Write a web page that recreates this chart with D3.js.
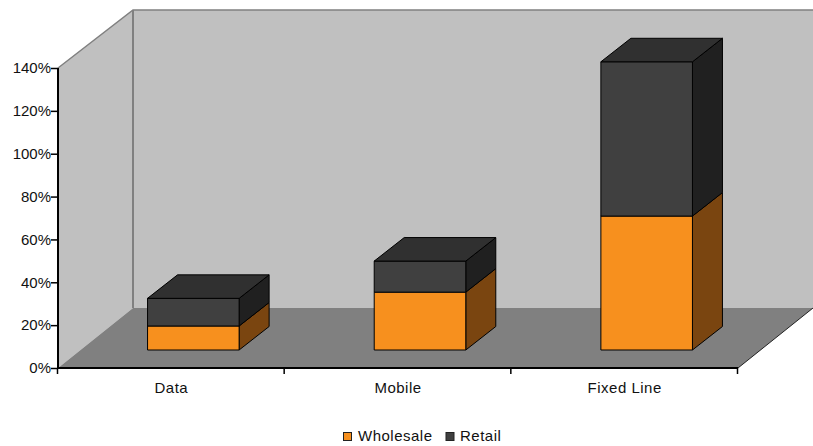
<!DOCTYPE html>
<html><head><meta charset="utf-8">
<style>html,body{margin:0;padding:0;background:#fff}svg{display:block}
text{font-family:"Liberation Sans",Arial,sans-serif;fill:#111}
.domain{display:none}</style>
<script src="https://cdn.jsdelivr.net/npm/d3@7"></script></head>
<body><svg id="c" width="813" height="446"></svg>
<script>
const categories=["Data","Mobile","Fixed Line"];
const wholesale=[11.2,27,62.5];
const retail=[12.9,14.5,72];
const seriesNames=["Wholesale","Retail"];
const tickValues=[0,20,40,60,80,100,120,140];
const colors={Wholesale:{front:"#f7901e",side:"#7a4510"},Retail:{front:"#404040",side:"#202020",top:"#303030"}};

const svg=d3.select("#c");
const x0=58,x1=738,yB=368,yT=68,dX=75,dYTop=58,dYFloor=60;
const y=d3.scaleLinear().domain([0,140]).range([yB,yT]);
const x=d3.scaleBand().domain(categories).range([x0,x1]);
const barX=d3.scaleBand().domain(categories).range([x0+22,x1+22]).paddingInner(.596).paddingOuter(.298);
const barY=v=>y(v)-18, bdx=30, bdy=23.5;
const line=d3.line();
const poly=(pts,fill,stroke,sw)=>svg.append("path").attr("d",line(pts)+"Z").attr("fill",fill).attr("stroke",stroke||"none").attr("stroke-width",sw||0).attr("stroke-linejoin","round");

// walls
const wallTop=yT-dYTop, wallBot=yB-dYFloor;
poly([[x0,yT],[x0+dX,wallTop],[x0+dX,wallBot],[x0,yB]],"#c0c0c0");
poly([[x0+dX,wallTop],[813,wallTop],[813,wallBot],[x0+dX,wallBot]],"#c0c0c0");
poly([[x0,yB],[x1,yB],[x1+dX,wallBot],[x0+dX,wallBot]],"#808080");
svg.append("path").attr("d",line([[x0,yT],[x0+dX,wallTop],[813,wallTop]])).attr("fill","none").attr("stroke","#808080").attr("stroke-width",1.5);
svg.append("path").attr("d",line([[x0+dX,wallTop],[x0+dX,wallBot]])).attr("fill","none").attr("stroke","#808080").attr("stroke-width",2);
svg.append("path").attr("d",line([[x1,yB],[x1+dX,wallBot]])).attr("fill","none").attr("stroke","#222").attr("stroke-width",1);

// bars
categories.forEach((c,i)=>{
  const l=barX(c),w=barX.bandwidth(),r=l+w;
  const segs=[{n:"Wholesale",a:0,b:wholesale[i]},{n:"Retail",a:wholesale[i],b:wholesale[i]+retail[i]}];
  segs.forEach(s=>{
    const c0=colors[s.n],ya=barY(s.a),yb=barY(s.b);
    poly([[r,ya],[r+bdx,ya-bdy],[r+bdx,yb-bdy],[r,yb]],c0.side,"#000",1);
    poly([[l,ya],[r,ya],[r,yb],[l,yb]],c0.front,"#000",1);
    if(c0.top) poly([[l,yb],[l+bdx,yb-bdy],[r+bdx,yb-bdy],[r,yb]],c0.top,"#000",1);
  });
});

// axes
const gy=svg.append("g").attr("transform",`translate(${x0},0)`)
  .call(d3.axisLeft(y).tickValues(tickValues).tickSize(7).tickPadding(0).tickFormat(d=>d+"%"));
gy.selectAll("line").attr("stroke","#000").attr("stroke-width",1.5);
gy.selectAll("text").attr("font-size",15).attr("fill","#111");
const gx=svg.append("g").attr("transform",`translate(0,${yB})`)
  .call(d3.axisBottom(x).tickSize(0).tickPadding(0));
gx.selectAll("text").attr("font-size",15).attr("letter-spacing",".5px").attr("fill","#111").attr("y",25).attr("dy",0);
gx.selectAll(".edge").data(d3.range(categories.length+1)).enter().append("line").attr("class","edge")
  .attr("x1",i=>x0+i*x.step()-.5).attr("x2",i=>x0+i*x.step()-.5).attr("y1",0).attr("y2",6).attr("stroke","#000").attr("stroke-width",1.5);
svg.append("path").attr("d",line([[x0,yT],[x0,yB],[x1,yB]])).attr("fill","none").attr("stroke","#000").attr("stroke-width",2);

// legend
const legX=[343.5,446],txtX=[358,460];
seriesNames.forEach((n,i)=>{
  svg.append("rect").attr("x",legX[i]).attr("y",432.5).attr("width",8).attr("height",8).attr("fill",colors[n].front).attr("stroke","#222").attr("stroke-width",1);
  svg.append("text").attr("x",txtX[i]).attr("y",441).attr("font-size",15).attr("letter-spacing",".5px").text(n);
});
</script></body></html>
